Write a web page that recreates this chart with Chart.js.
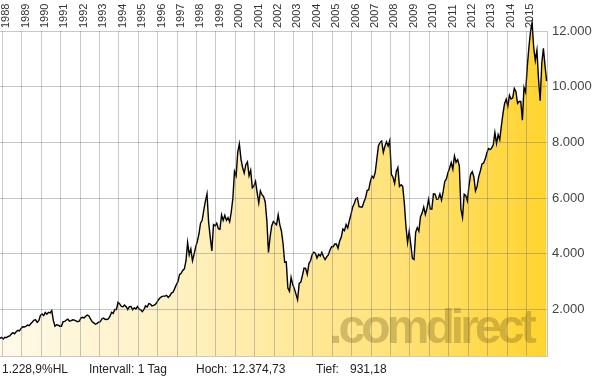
<!DOCTYPE html>
<html>
<head>
<meta charset="utf-8">
<script src="https://cdn.jsdelivr.net/npm/chart.js@4/dist/chart.umd.min.js"></script>
<style>
  html, body { margin: 0; padding: 0; background: #ffffff; }
  #wrap { position: relative; width: 596px; height: 379px; overflow: hidden; font-family: "Liberation Sans", Arial, sans-serif; }
  #c { position: absolute; left: 0; top: 0; }
  .wm { position: absolute; left: 329px; top: 297px; font-size: 48px; font-weight: bold; letter-spacing: -3.9px; color: rgba(120,100,35,0.34); white-space: nowrap; line-height: 60px; }
  .ft { position: absolute; top: 362px; font-size: 12px; color: #222; white-space: nowrap; line-height: 14px; }
</style>
</head>
<body>
<div id="wrap">
  <canvas id="c" width="596" height="379"></canvas>
  <div class="wm">.comdirect</div>
  <div class="ft" style="left:2px">1.228,9%HL</div>
  <div class="ft" style="left:89px">Intervall: 1 Tag</div>
  <div class="ft" style="left:196px">Hoch:</div>
  <div class="ft" style="left:232px">12.374,73</div>
  <div class="ft" style="left:316px">Tief:</div>
  <div class="ft" style="left:350px">931,18</div>
</div>
<script>
// Series start: mid-November 1987, one value per month (DAX, points)
const seriesStart = 1987.875;
const stepPerValue = 1 / 12;
const v1987 = [960, 1000];
const v1988 = [940, 1000, 990, 1030, 1050, 1120, 1170, 1130, 1200, 1250, 1230, 1320];
const v1989 = [1380, 1370, 1390, 1440, 1420, 1490, 1550, 1620, 1630, 1540, 1600, 1790];
const v1990 = [1840, 1780, 1890, 1830, 1900, 1880, 1960, 1600, 1400, 1450, 1440, 1400];
const v1991 = [1400, 1560, 1570, 1620, 1650, 1580, 1600, 1630, 1620, 1590, 1560, 1578];
const v1992 = [1690, 1720, 1700, 1760, 1800, 1770, 1650, 1560, 1520, 1470, 1500, 1545];
const v1993 = [1560, 1660, 1690, 1650, 1640, 1660, 1760, 1900, 1860, 2000, 2000, 2260];
const v1994 = [2200, 2110, 2100, 2160, 2100, 2000, 2100, 2110, 1990, 2060, 2020, 2107];
const v1995 = [2010, 1990, 1920, 2000, 2130, 2090, 2210, 2190, 2130, 2150, 2180, 2254];
const v1996 = [2350, 2420, 2460, 2480, 2480, 2510, 2430, 2490, 2590, 2620, 2750, 2889];
const v1997 = [3000, 3250, 3300, 3400, 3460, 3750, 4400, 3960, 4170, 3750, 3990, 4250];
const v1998 = [4440, 4710, 5100, 5200, 5570, 5890, 6150, 5130, 4600, 4100, 5050, 5002];
const v1999 = [5100, 4900, 4880, 5400, 5200, 5380, 5200, 5300, 5150, 5500, 6000, 6958];
const v2000 = [6800, 7640, 7950, 7400, 7100, 6900, 7200, 7300, 6800, 7000, 6370, 6434];
const v2001 = [6600, 6200, 5830, 6260, 6120, 6050, 5860, 5190, 4050, 4600, 5000, 5160];
const v2002 = [5100, 5040, 5400, 5050, 4820, 4380, 3700, 3710, 2770, 2650, 3150, 2893];
const v2003 = [2750, 2550, 2350, 2940, 2980, 3220, 3490, 3480, 3260, 3650, 3750, 3965];
const v2004 = [4060, 4020, 3850, 3980, 3920, 4050, 3900, 3790, 3890, 3960, 4130, 4256];
const v2005 = [4250, 4350, 4350, 4200, 4460, 4590, 4890, 4830, 5050, 4930, 5190, 5408];
const v2006 = [5670, 5800, 5970, 6010, 5690, 5680, 5680, 5860, 6000, 6270, 6300, 6597];
const v2007 = [6790, 6720, 6920, 7400, 7880, 8000, 8050, 7640, 7860, 8020, 7870, 8067];
const v2008 = [6850, 6750, 6530, 6950, 7100, 6420, 6480, 6420, 5830, 4990, 4400, 4810];
const v2009 = [4340, 3840, 3800, 4770, 4940, 4810, 5330, 5460, 5680, 5410, 5630, 5957];
const v2010 = [5610, 5600, 6150, 6140, 5960, 5970, 6150, 5930, 6230, 6600, 6690, 6914];
const v2011 = [7080, 7270, 7040, 7510, 7290, 7380, 7160, 5600, 5300, 6140, 6090, 5898];
const v2012 = [6460, 6860, 6950, 6760, 6260, 6420, 6770, 6970, 7220, 7260, 7400, 7612];
const v2013 = [7780, 7740, 7800, 7910, 8350, 7960, 8280, 8100, 8590, 9030, 9400, 9552];
const v2014 = [9300, 9690, 9560, 9600, 9940, 9830, 9400, 9470, 9470, 8800, 9980, 9806];
const v2015 = [10700, 11400, 11970, 12300, 11410, 10940, 11310, 10260, 9500, 10850, 11380, 10743];
const v2016 = [10200];

const yearTicks = [1988,1989,1990,1991,1992,1993,1994,1995,1996,1997,1998,1999,2000,2001,2002,2003,2004,2005,2006,2007,2008,2009,2010,2011,2012,2013,2014,2015];
const valueTicks = [2000, 4000, 6000, 8000, 10000, 12000];
const yMin = 330, yMax = 12000;
const xMin = 1987.875, xMax = 2016.06;

const allValues = [].concat(v1987, v1988, v1989, v1990, v1991, v1992, v1993, v1994, v1995, v1996, v1997, v1998, v1999, v2000, v2001, v2002, v2003, v2004, v2005, v2006, v2007, v2008, v2009, v2010, v2011, v2012, v2013, v2014, v2015, v2016);
const points = allValues.map((v, i) => ({ x: seriesStart + i * stepPerValue, y: v }));

const gridColor = 'rgba(100,100,120,0.36)';

function fillGradient(ctx) {
  const chart = ctx.chart;
  const a = chart.chartArea;
  if (!a) return '#ffe27a';
  const g = chart.ctx.createLinearGradient(a.left, 0, a.right, 0);
  g.addColorStop(0, '#fffaea');
  g.addColorStop(0.35, '#fff0bd');
  g.addColorStop(0.7, '#ffe37e');
  g.addColorStop(1, '#ffd42e');
  return g;
}

new Chart(document.getElementById('c'), {
  type: 'line',
  data: {
    datasets: [{
      data: points,
      borderColor: '#000000',
      borderWidth: 1.4,
      pointRadius: 0,
      tension: 0,
      fill: 'start',
      backgroundColor: fillGradient,
      clip: false
    }]
  },
  options: {
    responsive: false,
    animation: false,
    devicePixelRatio: 1,
    layout: { padding: { left: 0, right: 0, top: 0, bottom: 23 } },
    plugins: { legend: { display: false }, tooltip: { enabled: false } },
    scales: {
      x: {
        type: 'linear',
        position: 'top',
        min: xMin,
        max: xMax,
        afterBuildTicks: (s) => { s.ticks = yearTicks.map(v => ({ value: v })); },
        afterFit: (s) => { s.height = 31; s.paddingLeft = 0; s.paddingRight = 0; },
        ticks: {
          autoSkip: false,
          minRotation: 90,
          maxRotation: 90,
          padding: 3,
          labelOffset: 17,
          font: { family: '"Liberation Sans", Arial, sans-serif', size: 11 },
          color: '#333333',
          callback: (v) => String(v)
        },
        grid: { color: gridColor, drawTicks: false, z: 1 },
        border: { display: false }
      },
      y: {
        type: 'linear',
        position: 'right',
        min: yMin,
        max: yMax,
        afterBuildTicks: (s) => { s.ticks = [yMin].concat(valueTicks).map(v => ({ value: v })); },
        afterFit: (s) => { s.width = 49; s.paddingTop = 0; s.paddingBottom = 0; },
        ticks: {
          padding: 5,
          font: { family: '"Liberation Sans", Arial, sans-serif', size: 13 },
          color: '#444444',
          callback: (v) => v === yMin ? '' : v.toLocaleString('de-DE')
        },
        grid: { color: gridColor, drawTicks: false, z: 1 },
        border: { display: true, color: 'rgba(100,100,120,0.4)', z: 1 }
      }
    }
  }
});
</script>
</body>
</html>
